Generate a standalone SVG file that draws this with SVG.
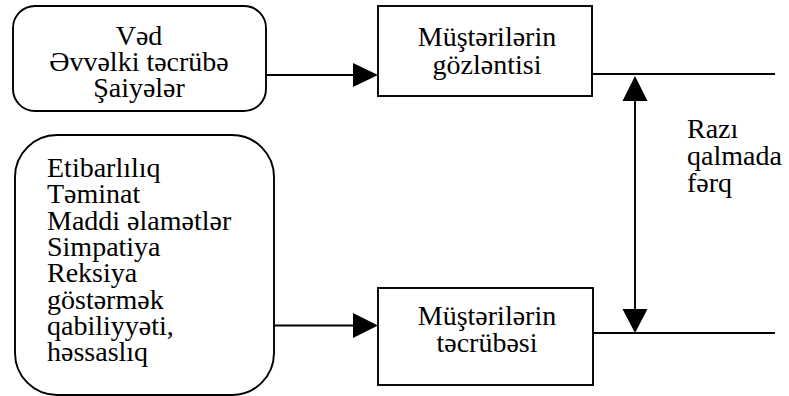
<svg xmlns="http://www.w3.org/2000/svg" width="789" height="396" viewBox="0 0 789 396">
  <style>
    .box { fill: #ffffff; stroke: #000000; stroke-width: 1.9; }
    text { font-family: 'Liberation Serif', 'Times New Roman', serif; font-size: 28px; fill: #000000; }
    .mid { text-anchor: middle; }
    .line { stroke: #000000; stroke-width: 1.9; fill: none; }
    .head { fill: #000000; stroke: none; }
  </style>

  <!-- Sources of expectations -->
  <g id="node-sources">
    <rect class="box" x="13" y="6" width="253" height="105" rx="22" ry="22"/>
    <text class="mid" x="139" y="45">Vəd</text>
    <text class="mid" x="139" y="71">Əvvəlki təcrübə</text>
    <text class="mid" x="139" y="97">Şaiyələr</text>
  </g>

  <!-- Service quality dimensions -->
  <g id="node-dimensions">
    <rect class="box" x="15" y="135" width="259" height="260" rx="42" ry="42"/>
    <text x="47" y="177">Etibarlılıq</text>
    <text x="47" y="203.3">Təminat</text>
    <text x="47" y="229.6">Maddi əlamətlər</text>
    <text x="47" y="256">Simpatiya</text>
    <text x="47" y="282.3">Reksiya</text>
    <text x="47" y="308.6">göstərmək</text>
    <text x="47" y="335">qabiliyyəti,</text>
    <text x="47" y="361.3">həssaslıq</text>
  </g>

  <!-- Customer expectations -->
  <g id="node-expectations">
    <rect class="box" x="378" y="6" width="214" height="90"/>
    <text class="mid" x="487" y="46">Müştərilərin</text>
    <text class="mid" x="487" y="74">gözləntisi</text>
  </g>

  <!-- Customer experience -->
  <g id="node-experience">
    <rect class="box" x="378" y="288" width="215" height="97"/>
    <text class="mid" x="487" y="325">Müştərilərin</text>
    <text class="mid" x="487" y="352">təcrübəsi</text>
  </g>

  <!-- Gap label -->
  <g id="label-gap">
    <text x="687" y="138">Razı</text>
    <text x="687" y="165">qalmada</text>
    <text x="687" y="192">fərq</text>
  </g>

  <g id="connectors">
    <!-- sources -> expectations -->
    <line class="line" x1="266" y1="75" x2="356" y2="75"/>
    <polygon class="head" points="378,75 353,63 353,87"/>
    <!-- dimensions -> experience -->
    <line class="line" x1="274" y1="325.5" x2="356" y2="325.5"/>
    <polygon class="head" points="378,325.5 353,313 353,338"/>
    <!-- output levels -->
    <line class="line" x1="592" y1="74" x2="775" y2="74"/>
    <line class="line" x1="593" y1="333" x2="775" y2="333"/>
    <!-- gap between expectation and experience -->
    <line class="line" x1="635" y1="98" x2="635" y2="310"/>
    <polygon class="head" points="635,76 622.5,101 647.5,101"/>
    <polygon class="head" points="635,333 622.5,309 647.5,309"/>
  </g>
</svg>
